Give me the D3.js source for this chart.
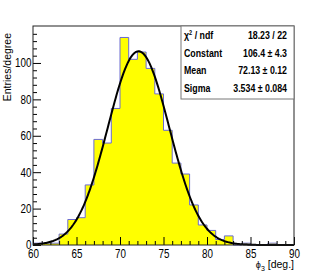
<!DOCTYPE html>
<html>
   <head>
      <style>
         body { margin: 0; background: #fff; }
         .tick text { font-family: "Liberation Sans", Arial, sans-serif; font-size: 12px; fill: #000; }
         .tick line { stroke: #000; }
         .stats text { font-family: "Liberation Sans", Arial, sans-serif; font-size: 11px; font-weight: bold; }
         .title { font-family: "Liberation Sans", Arial, sans-serif; font-size: 10.5px; }
      </style>
   </head>
   <body>
      <svg width="327" height="273"></svg>
      <script src="https://d3js.org/d3.v7.min.js"></script>
   </body>
   <script>
      // bin low edges (1 degree wide) and entries
      const binEdges = d3.range(60, 90, 1);
      const entries = [1, 1, 1, 6, 14, 15, 33, 58, 56, 75,
                       114, 102, 106, 97, 83, 63, 45, 39, 22, 11,
                       8, 3, 5, 0, 1, 0, 0, 1, 0, 0];
      const xTicks = [60, 65, 70, 75, 80, 85, 90];
      const yTicks = [0, 20, 40, 60, 80, 100];
      // fit result shown in the stats box
      const fitConstant = 106.4, fitMean = 72.13, fitSigma = 3.534;
      const statLabels = ["χ2 / ndf", "Constant", "Mean", "Sigma"];
      const statValues = ["18.23 / 22", "106.4 ± 4.3", "72.13 ± 0.12", "3.534 ± 0.084"];

      const svg = d3.select("svg");
      const fLeft = 33, fRight = 294, fTop = 26, fBottom = 245;
      const narrow = "scale(0.82,1)"; // ROOT fonts look condensed

      const xScale = d3.scaleLinear().domain([60, 90]).range([fLeft, fRight]);
      const yScale = d3.scaleLinear().domain([0, 120.3]).range([fBottom, fTop]);

      const hist = binEdges.map((e, i) => ({x: e, y: entries[i]}));
      hist.push({x: 90, y: entries[entries.length - 1]});

      svg.append("path")
         .datum(hist)
         .attr("fill", "#ffff00")
         .attr("d", d3.area().curve(d3.curveStepAfter)
            .x(d => xScale(d.x)).y0(yScale(0)).y1(d => yScale(d.y)));

      svg.append("path")
         .datum(hist)
         .attr("fill", "none")
         .attr("stroke", "#6b6bd0")
         .attr("stroke-width", 1)
         .attr("d", d3.line().curve(d3.curveStepAfter)
            .x(d => xScale(d.x)).y(d => yScale(d.y)));

      // gaussian fit curve
      const fitPts = d3.range(60, 90.01, 0.1).map(x => ({x: x,
         y: fitConstant * Math.exp(-0.5 * Math.pow((x - fitMean) / fitSigma, 2))}));
      svg.append("path")
         .datum(fitPts)
         .attr("fill", "none")
         .attr("stroke", "#000")
         .attr("stroke-width", 2)
         .attr("d", d3.line().x(d => xScale(d.x)).y(d => yScale(d.y)));

      // axes, ticks pointing into the frame
      const minorX = d3.range(60, 91, 1).filter(v => v % 5 != 0);
      const minorY = d3.range(0, 121, 4).filter(v => v % 20 != 0);

      svg.append("g").attr("transform", `translate(0,${fBottom})`)
         .call(d3.axisBottom(xScale).tickValues(xTicks).tickSize(-8).tickPadding(4))
         .call(g => g.select(".domain").remove())
         .call(g => g.selectAll(".tick text").attr("transform", narrow));
      svg.append("g").attr("transform", `translate(0,${fBottom})`)
         .call(d3.axisBottom(xScale).tickValues(minorX).tickSize(-4).tickFormat(""))
         .call(g => g.select(".domain").remove());
      svg.append("g").attr("transform", `translate(${fLeft},0)`)
         .call(d3.axisLeft(yScale).tickValues(yTicks).tickSize(-8).tickPadding(2))
         .call(g => g.select(".domain").remove())
         .call(g => g.selectAll(".tick text").attr("transform", narrow));
      svg.append("g").attr("transform", `translate(${fLeft},0)`)
         .call(d3.axisLeft(yScale).tickValues(minorY).tickSize(-4).tickFormat(""))
         .call(g => g.select(".domain").remove());

      svg.append("rect")
         .attr("x", fLeft).attr("y", fTop)
         .attr("width", fRight - fLeft).attr("height", fBottom - fTop)
         .attr("fill", "none").attr("stroke", "#222").attr("stroke-width", 1);

      // axis titles
      const xt = svg.append("text").attr("class", "title")
         .attr("x", fRight).attr("y", 268).attr("text-anchor", "end");
      xt.append("tspan").attr("font-size", "9px").text("ϕ");
      xt.append("tspan").attr("dy", 3).attr("font-size", "7px").text("3");
      xt.append("tspan").attr("dy", -3).text(" [deg.]");

      svg.append("text").attr("class", "title")
         .attr("transform", "translate(11,33) rotate(-90)")
         .attr("text-anchor", "end")
         .text("Entries/degree");

      // stats box
      const stats = svg.append("g").attr("class", "stats");
      stats.append("rect")
         .attr("x", 181).attr("y", fTop).attr("width", fRight - 181).attr("height", 73)
         .attr("fill", "#fff").attr("stroke", "#777").attr("stroke-width", 1);
      statLabels.forEach((lab, i) => {
         const yy = 39 + i * 17.5;
         const t = stats.append("text")
            .attr("transform", `translate(184,${yy}) scale(0.8,1)`);
         if (i == 0) {
            t.append("tspan").text("χ");
            t.append("tspan").attr("dy", -4).attr("font-size", "7px").text("2");
            t.append("tspan").attr("dy", 4).text(" / ndf");
         } else {
            t.text(lab);
         }
         stats.append("text")
            .attr("transform", `translate(287,${yy}) scale(0.8,1)`)
            .attr("text-anchor", "end").text(statValues[i]);
      });
   </script>
</html>
